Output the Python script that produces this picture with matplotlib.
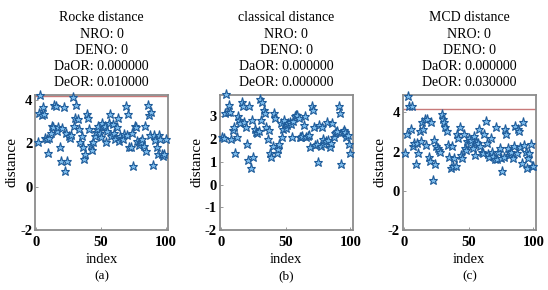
import numpy as np
import matplotlib.pyplot as plt

plt.rcParams['font.family'] = ['Liberation Serif', 'DejaVu Serif']
plt.rcParams['axes.unicode_minus'] = False

# index 1..100
idx = np.arange(1, 101)

rocke = [2.05, 3.4, 4.25, 3.3, 3.7, 3.35, 2.25, 2.2, 1.55, 2.25,
         2.5, 2.8, 2.75, 3.8, 3.75, 2.6, 2.75, 1.85, 1.2, 2.7,
         3.7, 0.75, 2.5, 1.2, 2.35, 2.25, 2.4, 4.15, 2.8, 3.2,
         3.8, 3.15, 2.65, 2.05, 2.35, 1.85, 1.3, 1.5, 3.35, 3.2,
         2.65, 1.95, 1.7, 2.05, 2.35, 2.55, 2.65, 2.8, 2.5, 2.3,
         2.95, 2.75, 2.8, 2.05, 2.6, 2.95, 3.35, 2.35, 2.9, 2.5,
         2.2, 2.75, 3.2, 2.1, 2.35, 2.25, 2.2, 2.45, 3.75, 2.4,
         3.35, 1.85, 1.85, 2.5, 0.95, 2.8, 2.75, 2.1, 1.95, 2.05,
         2.05, 2.2, 1.9, 2.8, 1.65, 3.8, 3.3, 2.4, 3.45, 1.0,
         2.4, 2.15, 1.85, 1.5, 2.4, 2.2, 1.5, 1.4, 1.5, 2.2]

classical = [2.1, 2.05, 3.15, 4.0, 3.2, 3.5, 3.2, 2.0, 2.4, 2.55,
             1.4, 2.1, 3.0, 2.85, 2.7, 3.65, 3.45, 2.75, 2.55, 1.8,
             1.1, 3.45, 0.75, 2.85, 1.2, 2.45, 2.3, 2.25, 2.35, 3.75,
             2.85, 3.65, 3.3, 3.15, 2.55, 2.0, 2.4, 1.4, 1.2, 1.7,
             3.15, 2.95, 1.4, 1.55, 1.8, 2.7, 2.1, 2.45, 2.85, 2.5,
             2.6, 2.7, 2.75, 2.65, 2.1, 2.8, 3.0, 3.05, 3.05, 2.95,
             2.1, 2.1, 2.15, 2.6, 3.0, 2.1, 2.15, 2.2, 1.65, 3.45,
             3.3, 2.55, 1.75, 1.8, 1.0, 2.6, 1.7, 2.55, 2.0, 1.8,
             1.9, 2.75, 1.95, 1.65, 1.85, 2.7, 2.1, 2.25, 2.3, 2.35,
             3.45, 3.15, 0.9, 2.3, 2.4, 2.3, 2.1, 2.2, 1.8, 1.4]

mcd = [1.95, 2.9, 4.85, 4.35, 3.15, 4.35, 2.3, 2.45, 1.35, 2.45,
       1.95, 3.05, 2.55, 3.5, 3.15, 3.65, 2.35, 3.65, 1.75, 1.5,
       3.5, 0.55, 2.6, 1.35, 2.3, 2.2, 2.1, 2.0, 3.9, 3.65,
       3.5, 3.25, 3.05, 2.35, 1.75, 1.15, 2.3, 1.25, 1.7, 1.25,
       2.9, 2.7, 3.25, 1.85, 1.7, 2.9, 2.2, 2.1, 2.55, 2.7,
       2.45, 2.6, 2.2, 2.8, 1.85, 2.5, 2.45, 3.15, 2.3, 2.0,
       1.95, 2.9, 3.55, 2.45, 1.9, 1.75, 2.7, 2.0, 1.8, 1.6,
       3.25, 1.6, 2.0, 2.2, 1.7, 1.0, 1.75, 3.15, 2.9, 2.2,
       1.85, 1.95, 2.0, 1.7, 2.3, 3.3, 1.95, 3.15, 3.05, 2.25,
       1.4, 3.5, 2.35, 2.0, 1.15, 1.7, 1.95, 2.4, 1.25, 1.25]

names = ["Rocke distance", "classical distance", "MCD distance"]
deor = ["0.010000", "0.000000", "0.030000"]
cutoffs = [4.2, None, 4.2]
ylims = [(-2, 4.25), (-2, 3.95), (-2, 4.9)]
yticks = [[-2, 0, 2, 4], [-2, -1, 0, 1, 2, 3], [-2, 0, 2, 4]]
letters = ["(a)", "(b)", "(c)"]
lefts = [0.064, 0.401, 0.735]

fig = plt.figure(figsize=(5.48, 2.90), dpi=100)

for i, vals in enumerate([rocke, classical, mcd]):
    ax = fig.add_axes([lefts[i], 0.207, 0.243, 0.466])
    ax.plot(idx, vals, linestyle='none', marker='*', markersize=6.5,
            markerfacecolor='#7dbcec', markeredgecolor='#1f5c9a',
            markeredgewidth=0.8, clip_on=False, zorder=3)
    if cutoffs[i] is not None:
        ax.axhline(cutoffs[i], color='#c87a7a', linewidth=1.0, zorder=2)
    ax.set_xlim(-1, 102)
    ax.set_ylim(*ylims[i])
    ax.set_xticks([0, 50, 100])
    ax.set_yticks(yticks[i])
    ax.tick_params(direction='in', length=2, width=0.6, labelsize=10.5,
                   colors='#888888', labelcolor='black')
    ax.tick_params(axis='x', pad=4)
    ax.tick_params(axis='y', pad=2)
    for lab in ax.get_xticklabels() + ax.get_yticklabels():
        lab.set_fontweight('bold')
    for sp in ax.spines.values():
        sp.set_color('#8c8c8c')
        sp.set_linewidth(1.3)
    ax.set_xlabel("index", fontsize=10.5, labelpad=3)
    ax.set_ylabel("distance", fontsize=11, labelpad=1)
    ax.set_title(names[i] + "\nNRO: 0\nDENO: 0\nDaOR: 0.000000\nDeOR: " + deor[i],
                 fontsize=10, linespacing=1.33, pad=6)
    ax.text(0.5, -0.34, letters[i], transform=ax.transAxes, ha='center',
            va='center', fontsize=9.5)

plt.savefig("out.png", dpi=100)
